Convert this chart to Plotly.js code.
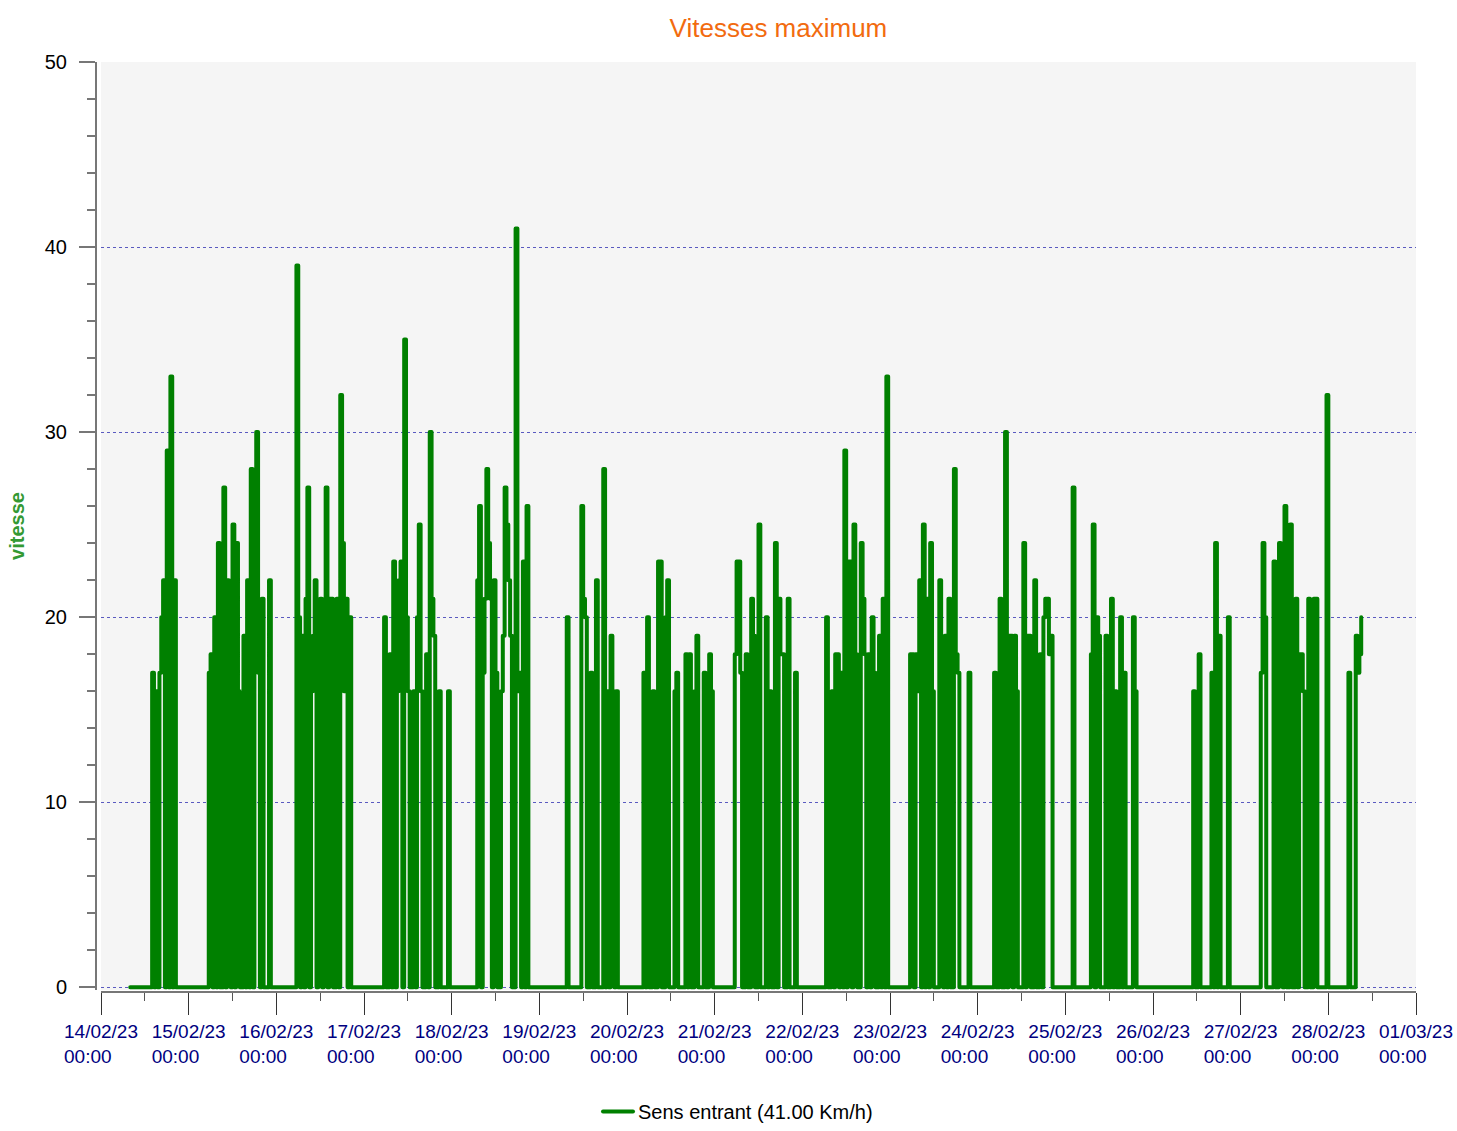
<!DOCTYPE html>
<html>
<head>
<meta charset="utf-8">
<script src="https://cdn.plot.ly/plotly-3.0.1.min.js"></script>
<style>
  html, body { margin: 0; padding: 0; background: #ffffff; }
  #chart { width: 1457px; height: 1131px; }
  #chart path.js-line { stroke-linejoin: round !important; stroke-linecap: round !important; }
</style>
</head>
<body>
<div id="chart"></div>
<script>
// Half-hour slots per day (48 per day), values in km/h; null = no record yet
const days = ['2023-02-14','2023-02-15','2023-02-16','2023-02-17','2023-02-18','2023-02-19','2023-02-20',
              '2023-02-21','2023-02-22','2023-02-23','2023-02-24','2023-02-25','2023-02-26','2023-02-27','2023-02-28'];

const d14 = [null,null,null,null,null,null,null,null,null,null,null,null,null,null,null,null,
             0,0,0,0,0,0,0,0,0,0,0,0, 17,0,16,0,17,20,22,0,29,0,33,0,22,0,0,0,0,0,0,0];
const d15 = [0,0,0,0,0,0,0,0,0,0, 0,17,18,0,20,0,24,0,0,27, 0,22,17,0,25,0,24,16,0,0, 19,0,22,0,28,0,21,30,17,0, 21,0,0,0,22,0,0,0];
const d16 = [0,0,0,0,0,0,0,0,0,0, 0,39,20,0,19,0,21,27,0,16, 19,22,0,16,21,0,18,27,0,21, 21,0,0,21,0,32,24,16,21,0, 20,0,0,0,0,0,0,0];
const d17 = [0,0,0,0,0,0,0,0,0,0, 0,20,0,0,18,0,23,0,16,22, 23,0,35,20,16,0,0,16,0,20, 25,16,0,0,18,0,30,21,19,0, 0,16,0,0,0,0,16,0];
const d18 = [0,0,0,0,0,0,0,0,0,0, 0,0,0,0,22,26,0,17,21,28, 24,21,0,22,17,0,0,16,19,27, 25,22,19,0,0,41,16,17,0,23, 0,26,0,0,0,0,0,0];
const d19 = [0,0,0,0,0,0,0,0,0,0, 0,0,0,0,0,20,0,0,0,0, 0,0,0,26,21,20,0,0,17,0, 0,22,0,0,0,28,0,16,0,19, 16,0,16,0,0,0,0,0];
const d20 = [0,0,0,0,0,0,0,0,0,17, 0,20,0,0,16,0,0,23,23,0, 0,20,22,0,0,0,16,17,0,0, 0,0,18,0,18,0,0,16,19,0, 0,0,17,0,0,18,16,0];
const d21 = [0,0,0,0,0,0,0,0,0,0, 0,18,23,23,17,0,0,18,0,0, 21,19,0,0,25,0,0,0,20,0, 16,0,0,24,0,21,18,18,0,0, 21,0,0,0,17,0,0,0];
const d22 = [0,0,0,0,0,0,0,0,0,0, 0,0,0,20,0,0,16,0,18,18, 0,17,0,29,0,23,23,0,25,18, 0,0,24,21,18,0,18,0,20,17, 0,0,19,0,21,0,33,0];
const d23 = [0,0,0,0,0,0,0,0,0,0, 0,18,18,0,18,16,22,0,25,0, 21,0,24,16,0,0,0,22,16,0, 19,0,21,0,0,28,18,17,0,0, 0,0,0,17,0,0,0,0];
const d24 = [0,0,0,0,0,0,0,0,0,17, 0,0,21,0,0,30,0,19,19,0, 19,16,0,0,0,24,0,19,19,0, 0,22,0,0,18,0,20,21,21,18, 19,0,0,0,0,0,0,0];
const d25 = [0,0,0,0,27,0,0,0,0,0, 0,0,0,0,18,25,0,20,19,0, 0,0,19,0,0,21,0,16,0,0, 20,0,17,0,0,0,0,20,16,0, 0,0,0,0,0,0,0,0];
const d26 = [0,0,0,0,0,0,0,0,0,0, 0,0,0,0,0,0,0,0,0,0, 0,0,16,0,0,18,0,0,0,0, 0,0,17,0,24,0,19,0,0,0, 0,20,0,0,0,0,0,0];
const d27 = [0,0,0,0,0,0,0,0,0,0, 0,17,24,20,0,0,0,0,23,0, 0,24,18,0,26,0,0,25,0,0, 21,0,18,18,16,0,0,21,0,0, 21,21,0,0,0,0,0,32];
const d28 = [0,0,0,0,0,0,0,0,0,0, 0,17,0,0,0,19,17,18,20];

const tickDates = ['2023-02-14','2023-02-15','2023-02-16','2023-02-17','2023-02-18','2023-02-19','2023-02-20','2023-02-21',
                   '2023-02-22','2023-02-23','2023-02-24','2023-02-25','2023-02-26','2023-02-27','2023-02-28','2023-03-01'];
const tickDay = ['14/02/23','15/02/23','16/02/23','17/02/23','18/02/23','19/02/23','20/02/23','21/02/23',
                 '22/02/23','23/02/23','24/02/23','25/02/23','26/02/23','27/02/23','28/02/23','01/03/23'];
const tickTime = '00:00';

const seriesName = 'Sens entrant (41.00 Km/h)';
const dayValues = [d14,d15,d16,d17,d18,d19,d20,d21,d22,d23,d24,d25,d26,d27,d28];

const xs = [], ys = [];
dayValues.forEach((arr, i) => {
  arr.forEach((v, s) => {
    if (v === null) return;
    const hh = String(Math.floor(s / 2)).padStart(2, '0');
    const mm = s % 2 ? '30' : '00';
    xs.push(days[i] + ' ' + hh + ':' + mm);
    ys.push(v);
  });
});

const pad = '\u00a0\u00a0\u00a0\u00a0\u00a0';
const tickText = tickDay.map(d => d + '<br>' + tickTime + pad);

const FONT = '"Liberation Sans", Arial, sans-serif';

const trace = {
  type: 'scatter',
  mode: 'lines',
  x: xs,
  y: ys,
  name: seriesName,
  line: { color: '#008000', width: 4, shape: 'hv' },
  showlegend: true
};

const layout = {
  width: 1457,
  height: 1131,
  paper_bgcolor: '#ffffff',
  plot_bgcolor: '#f5f5f5',
  font: { family: FONT, size: 18, color: '#000000' },
  margin: { l: 96, r: 41, t: 62, b: 139, pad: 0, autoexpand: false },
  title: {
    text: 'Vitesses maximum',
    font: { family: FONT, size: 26, color: '#f26b0f' },
    x: 0.517, xref: 'paper', xanchor: 'center',
    y: 0.975, yref: 'container', yanchor: 'middle'
  },
  xaxis: {
    type: 'date',
    domain: [5 / 1320, 1],
    anchor: 'free',
    position: 0,
    automargin: false,
    range: ['2023-02-14 00:00', '2023-03-01 00:00'],
    tickmode: 'array',
    tickvals: tickDates,
    ticktext: tickText,
    ticks: 'outside',
    ticklen: 22,
    tickwidth: 1,
    tickcolor: '#333333',
    tickfont: { family: FONT, size: 19, color: '#000080' },
    showline: true,
    linecolor: '#777777',
    linewidth: 2,
    showgrid: false,
    zeroline: false,
    minor: { tickmode: 'linear', tick0: '2023-02-14 12:00', dtick: 86400000, ticks: 'outside', ticklen: 8, tickcolor: '#555555', tickwidth: 1, showgrid: false },
    fixedrange: true
  },
  yaxis: {
    domain: [2 / 930, 1],
    anchor: 'free',
    position: 0,
    automargin: false,
    range: [-0.15, 50],
    tickmode: 'linear',
    tick0: 0,
    dtick: 10,
    ticks: 'outside',
    ticklen: 16,
    tickwidth: 2,
    tickcolor: '#777777',
    ticklabelstandoff: 8,
    tickfont: { family: FONT, size: 20, color: '#000000' },
    showline: true,
    linecolor: '#777777',
    linewidth: 2,
    showgrid: true,
    gridcolor: '#5a5ac0',
    griddash: 'dot',
    gridwidth: 1,
    zeroline: false,
    minor: { tickmode: 'linear', tick0: 0, dtick: 2, ticks: 'outside', ticklen: 8, tickcolor: '#777777', tickwidth: 2, showgrid: false },
    title: {
      text: '<b>vitesse</b>',
      font: { family: FONT, size: 20, color: '#339933' },
      standoff: 14
    },
    fixedrange: true
  },
  showlegend: true,
  legend: {
    orientation: 'h',
    xref: 'container', yref: 'container',
    x: 598 / 1457, xanchor: 'left',
    y: 0, yanchor: 'bottom',
    font: { family: FONT, size: 20, color: '#000000' },
    bgcolor: 'rgba(0,0,0,0)'
  }
};

Plotly.newPlot('chart', [trace], layout, { displayModeBar: false, staticPlot: true });
</script>
</body>
</html>
